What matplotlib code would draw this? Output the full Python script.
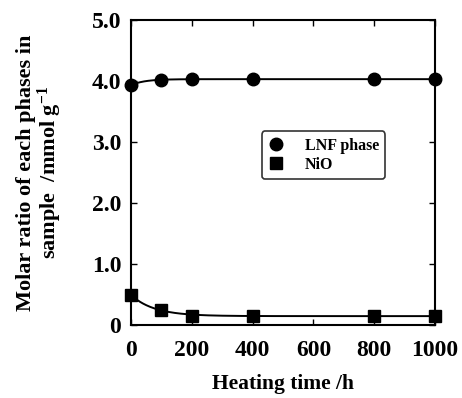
import numpy as np
import matplotlib.pyplot as plt

time_h = [0, 100, 200, 400, 800, 1000]
lnf_phase = [3.93, 4.02, 4.03, 4.03, 4.03, 4.03]
nio = [0.49, 0.25, 0.15, 0.15, 0.15, 0.15]

plt.rcParams["font.family"] = ["Liberation Serif", "DejaVu Serif"]
plt.rcParams["font.weight"] = "bold"
plt.rcParams["axes.labelweight"] = "bold"
plt.rcParams["mathtext.fontset"] = "custom"
plt.rcParams["mathtext.rm"] = "Liberation Serif:bold"
plt.rcParams["mathtext.default"] = "rm"


def decay_fit(x, y):
    # y = a + b*exp(-x/tau), tau by grid search, a and b by least squares
    x = np.asarray(x, float)
    y = np.asarray(y, float)
    best = None
    for tau in np.linspace(10, 400, 400):
        A = np.column_stack([np.ones_like(x), np.exp(-x / tau)])
        coef, *_ = np.linalg.lstsq(A, y, rcond=None)
        err = np.sum((A @ coef - y) ** 2)
        if best is None or err < best[0]:
            best = (err, tau, coef)
    _, tau, coef = best
    xs = np.linspace(x.min(), x.max(), 300)
    return xs, coef[0] + coef[1] * np.exp(-xs / tau)


fig = plt.figure(figsize=(4.62, 3.98), dpi=100)
ax = fig.add_axes([131 / 462, 1 - 325 / 398, 304 / 462, 305 / 398])

xs, ys = decay_fit(time_h, lnf_phase)
ax.plot(xs, ys, color="black", lw=1.4)
xs, ys = decay_fit(time_h, nio)
ax.plot(xs, ys, color="black", lw=1.4)

ax.plot(time_h, lnf_phase, "o", color="black", ms=9, label="LNF phase", clip_on=False)
ax.plot(time_h, nio, "s", color="black", ms=9, label="NiO", clip_on=False)

ax.set_xlim(0, 1000)
ax.set_ylim(0, 5)
ax.set_xticks([0, 200, 400, 600, 800, 1000])
ax.set_yticks([0, 1, 2, 3, 4, 5])
ax.set_yticklabels(["0", "1.0", "2.0", "3.0", "4.0", "5.0"])
ax.tick_params(direction="in", top=True, right=True, length=4, width=1,
               labelsize=17, pad=7)
ax.tick_params(axis="x", pad=11)
for s in ax.spines.values():
    s.set_linewidth(1.5)

ax.set_xlabel("Heating time /h", fontsize=15.5, labelpad=9)
ax.set_ylabel("Molar ratio of each phases in\nsample  /mmol g$^{-1}$",
              fontsize=16, labelpad=20, linespacing=1.0)

leg = ax.legend(loc="upper left", bbox_to_anchor=(0.43, 0.635), fontsize=11.5,
                frameon=True, fancybox=True, edgecolor="black",
                handletextpad=1.3, borderpad=0.4, labelspacing=0.2,
                handlelength=1.0, borderaxespad=0)
leg.get_frame().set_linewidth(1.2)

fig.savefig("out.png", dpi=100)
